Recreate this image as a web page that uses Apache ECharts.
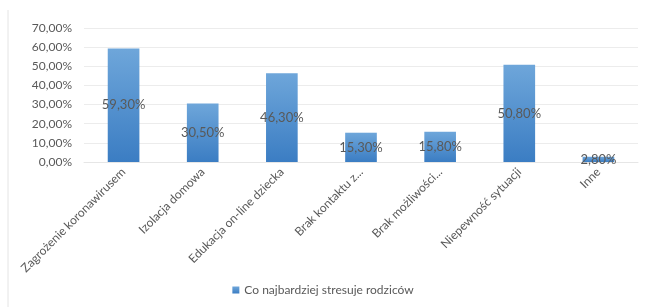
<!DOCTYPE html>
<html>
<head>
<meta charset="utf-8">
<script src="https://cdn.jsdelivr.net/npm/echarts@6/dist/echarts.min.js"></script>
<style>
  html, body { margin: 0; padding: 0; background: #fff; }
  #chart { width: 646px; height: 307px; }
</style>
</head>
<body>
<div id="chart"></div>
<script>
// dane
var categories = ['Zagrożenie koronawirusem', 'Izolacja domowa', 'Edukacja on-line dziecka', 'Brak kontaktu z...', 'Brak możliwości...', 'Niepewność sytuacji', 'Inne'];
var values = [59.3, 30.5, 46.3, 15.3, 15.8, 50.8, 2.8];
var seriesName = 'Co najbardziej stresuje rodziców';
var yTicks = [0, 10, 20, 30, 40, 50, 60, 70];

function pct(v) {
  return v.toFixed(2).replace('.', ',') + '%';
}

var chart = echarts.init(document.getElementById('chart'));
var font = 'Lato';
var option = {
  animation: false,
  textStyle: { fontFamily: font },
  graphic: [
    { type: 'line', shape: { x1: 8, y1: 10, x2: 8, y2: 307 }, style: { stroke: '#e4e4e4', lineWidth: 1 } }
  ],
  grid: { left: 84, right: 8, top: 28, bottom: 145 },
  legend: {
    bottom: 6,
    left: 'center',
    itemWidth: 7,
    itemHeight: 7,
    itemGap: 4,
    icon: 'rect',
    textStyle: { color: '#595959', fontSize: 12, fontFamily: font },
    data: [seriesName]
  },
  xAxis: {
    type: 'category',
    data: categories,
    axisLine: { lineStyle: { color: '#e6e6e6' } },
    axisTick: { show: false },
    axisLabel: { rotate: 45, interval: 0, color: '#595959', fontSize: 12, margin: 8, fontFamily: font }
  },
  yAxis: {
    type: 'value',
    min: yTicks[0],
    max: yTicks[yTicks.length - 1],
    interval: 10,
    axisLine: { show: false },
    axisTick: { show: false },
    splitLine: { lineStyle: { color: '#ececec' } },
    axisLabel: { color: '#595959', fontSize: 12, margin: 12, formatter: function (v) { return pct(v); }, fontFamily: font }
  },
  series: [{
    name: seriesName,
    type: 'bar',
    data: values,
    barWidth: '40%',
    itemStyle: {
      color: new echarts.graphic.LinearGradient(0, 0, 0, 1, [
        { offset: 0, color: '#6ea6da' },
        { offset: 1, color: '#3b7dc3' }
      ])
    },
    label: {
      show: true,
      position: 'inside',
      color: '#595959',
      fontSize: 13,
      fontFamily: font,
      formatter: function (p) { return pct(p.value); }
    }
  }],
  color: ['#4a8fd0']
};
chart.setOption(option);
</script>
</body>
</html>
